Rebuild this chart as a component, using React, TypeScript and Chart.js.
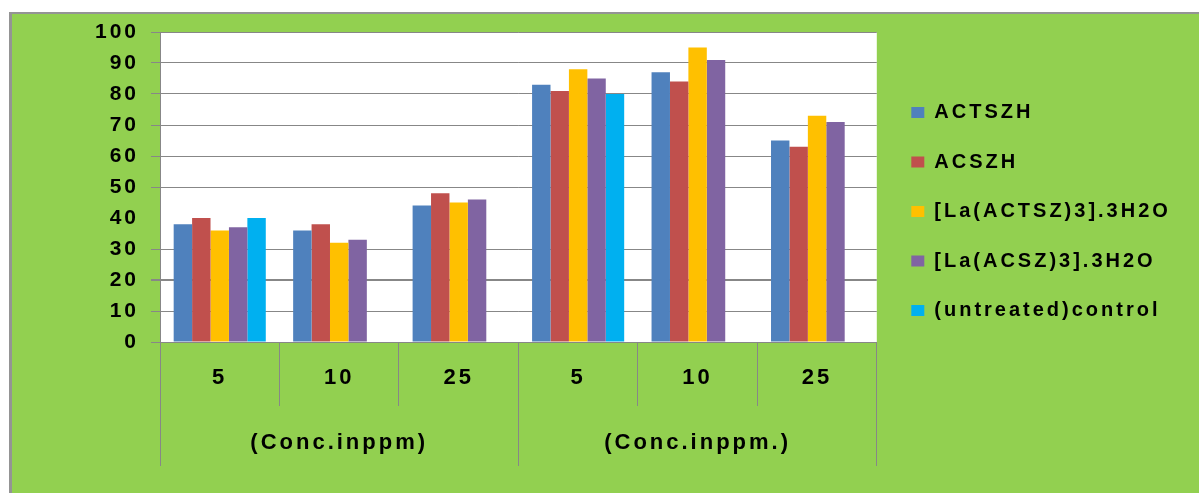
import { useEffect, useRef } from 'react';
import { Chart, registerables } from 'chart.js';

Chart.register(...registerables);

// Concentration categories (two groups of three) and group captions
const categories = ['5', '10', '25', '5', '10', '25'];
const groupLabels = ['(Conc.inppm)', '(Conc.inppm.)'];

// Series names and values (%)
const seriesNames = [
  'ACTSZH',
  'ACSZH',
  '[La(ACTSZ)3].3H2O',
  '[La(ACSZ)3].3H2O',
  '(untreated)control',
];
const actszh = [38, 36, 44, 83, 87, 65];
const acszh = [40, 38, 48, 81, 84, 63];
const laActsz = [36, 32, 45, 88, 95, 73];
const laAcsz = [37, 33, 46, 85, 91, 71];
const control = [40, null, null, 80, null, null];

const seriesColors = ['#4F81BD', '#C0504D', '#FFC000', '#8064A2', '#00B0F0'];

const yMin = 0;
const yMax = 100;
const yStep = 10;

const FONT = "'Liberation Sans', Arial, sans-serif";
const SPACING = '3px';
const GRID = '#878787';
const LEGEND_SIZE = 20;
const LEGEND_PAD = 29.5;
const LEGEND_BOX_W = 13;
const LEGEND_BOX_H = 11;

const CANVAS_W = 1187;
const CANVAS_H = 479;
const AREA_RIGHT = 864;

// Width the legend box will take, so the plot area ends where it should
function legendWidth(): number {
  const ctx = document.createElement('canvas').getContext('2d') as any;
  ctx.font = `normal bold ${LEGEND_SIZE}px ${FONT}`;
  ctx.letterSpacing = SPACING;
  const w = Math.max(...seriesNames.map((n) => ctx.measureText(n).width));
  return LEGEND_PAD + LEGEND_BOX_W + LEGEND_SIZE / 2 + w + 10;
}

const decor = {
  id: 'decor',
  beforeLayout(chart: any) {
    chart.ctx.letterSpacing = SPACING;
  },
  afterLayout(chart: any) {
    const lg = chart.legend;
    if (lg) {
      lg.left += 5;
      lg.right += 5;
      lg.top -= 51;
      lg.bottom -= 51;
    }
  },
  beforeDraw(chart: any) {
    const { ctx, chartArea } = chart;
    ctx.letterSpacing = SPACING;
    ctx.save();
    ctx.fillStyle = '#ffffff';
    ctx.fillRect(chartArea.left, chartArea.top, chartArea.width, chartArea.height);
    ctx.restore();
  },
};

// the 40 line is not drawn, the 20 line is heavier
const gridColor = (c: any) => {
  const v = c && c.tick ? c.tick.value : c ? c.index * yStep : -1;
  return v === 40 ? 'rgba(255,255,255,0)' : GRID;
};
const gridWidth = (c: any) => {
  const v = c && c.tick ? c.tick.value : c ? c.index * yStep : -1;
  return v === 20 ? 2 : 1;
};

export default function App() {
  const canvasRef = useRef<HTMLCanvasElement | null>(null);

  useEffect(() => {
    if (!canvasRef.current) return;
    const series = [actszh, acszh, laActsz, laAcsz, control];
    const rightPad = Math.max(0, CANVAS_W - AREA_RIGHT - legendWidth() + 10);

    const chart = new Chart(canvasRef.current, {
      type: 'bar',
      data: {
        labels: categories,
        datasets: series.map((values, i) => ({
          label: seriesNames[i],
          data: values,
          backgroundColor: seriesColors[i],
          borderWidth: 0,
          categoryPercentage: 0.771,
          barPercentage: 1,
        })),
      },
      plugins: [decor],
      options: {
        animation: false,
        responsive: true,
        maintainAspectRatio: false,
        layout: { padding: { top: 18, left: 0, bottom: 0, right: rightPad } },
        plugins: {
          tooltip: { enabled: false },
          legend: {
            position: 'right',
            labels: {
              boxWidth: LEGEND_BOX_W,
              boxHeight: LEGEND_BOX_H,
              padding: LEGEND_PAD,
              color: '#000',
              font: { family: FONT, size: LEGEND_SIZE, weight: 'bold' },
            },
          },
        },
        scales: {
          x: {
            type: 'category',
            position: 'bottom',
            offset: true,
            grid: { offset: true, drawOnChartArea: false, tickLength: 64, color: GRID },
            border: { color: GRID, width: 1 },
            ticks: {
              padding: -41.2,
              maxRotation: 0,
              autoSkip: false,
              color: '#000',
              font: { family: FONT, size: 22, weight: 'bold' },
            },
            afterFit: (s: any) => {
              s.height = 64;
              s.paddingLeft = 0;
              s.paddingRight = 0;
            },
          },
          x2: {
            type: 'category',
            labels: groupLabels,
            position: 'bottom',
            weight: 1,
            offset: true,
            grid: { offset: true, drawOnChartArea: false, tickLength: 60, color: GRID },
            border: { display: false },
            ticks: {
              padding: -36.2,
              maxRotation: 0,
              autoSkip: false,
              color: '#000',
              font: { family: FONT, size: 22, weight: 'bold' },
            },
            afterFit: (s: any) => {
              s.height = CANVAS_H - 328 - 64;
              s.paddingLeft = 0;
              s.paddingRight = 0;
            },
          },
          y: {
            min: yMin,
            max: yMax,
            grid: {
              color: gridColor,
              lineWidth: gridWidth,
              tickLength: 9,
            },
            border: { color: GRID, width: 1 },
            ticks: {
              stepSize: yStep,
              padding: 12,
              color: '#000',
              font: { family: FONT, size: 21, weight: 'bold' },
            },
            afterFit: (s: any) => {
              s.width = 148;
              s.paddingTop = 0;
              s.paddingBottom = 0;
            },
          },
        },
      } as any,
    });

    return () => chart.destroy();
  }, []);

  return (
    <div
      style={{
        position: 'absolute',
        left: 9,
        top: 12,
        width: 1190,
        height: 481,
        boxSizing: 'border-box',
        borderLeft: '3px solid #949494',
        borderTop: '2px solid #949494',
        background: '#92D050',
      }}
    >
      <div style={{ position: 'relative', width: CANVAS_W, height: CANVAS_H }}>
        <canvas ref={canvasRef} />
      </div>
    </div>
  );
}
